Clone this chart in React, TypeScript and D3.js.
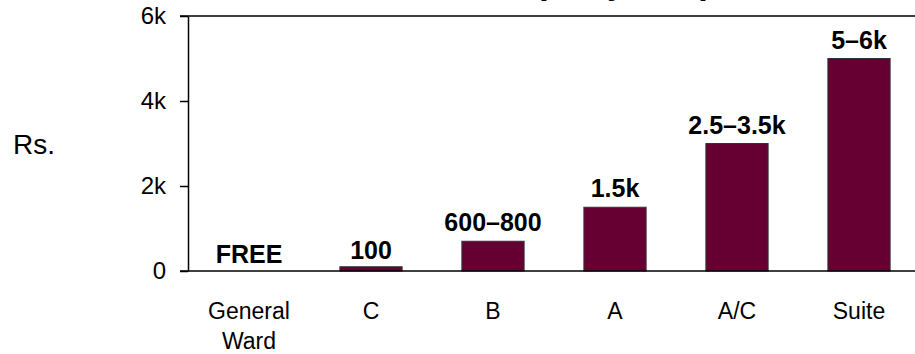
import { useEffect, useRef } from 'react';
import * as d3 from 'd3';

// Chart data
const categories = ['General Ward', 'C', 'B', 'A', 'A/C', 'Suite'];
const values = [0, 100, 700, 1500, 3000, 5000];
const barLabels = ['FREE', '100', '600–800', '1.5k', '2.5–3.5k', '5–6k'];
const yTicks = [0, 2000, 4000, 6000];
const yTickLabels = ['0', '2k', '4k', '6k'];

const width = 915;
const height = 354;
const font = '"Liberation Sans", Arial, sans-serif';

const App = () => {
  const svgRef = useRef<SVGSVGElement | null>(null);

  useEffect(() => {
    const svg = d3.select(svgRef.current);
    svg.selectAll('*').remove();

    const left = 188;
    const right = 920;
    const top = 16;
    const bottom = 271;

    const x = d3.scaleBand().domain(categories).range([left, right]).paddingInner(0.49).paddingOuter(0.245);
    const y = d3.scaleLinear().domain([0, 6000]).range([bottom, top]);

    // title (cut off at the top edge, only descenders show)
    svg.append('text')
      .attr('x', 712)
      .attr('y', -6)
      .attr('text-anchor', 'end')
      .attr('font-family', font)
      .attr('font-weight', 'bold')
      .attr('font-size', 35)
      .text('Room Rent (daily rate)');

    // top border line
    svg.append('line')
      .attr('x1', left - 8).attr('x2', width)
      .attr('y1', y(6000)).attr('y2', y(6000))
      .attr('stroke', '#000').attr('stroke-width', 1.5);

    // bars
    svg.selectAll('rect.bar')
      .data(values)
      .enter()
      .append('rect')
      .attr('class', 'bar')
      .attr('x', (d, i) => x(categories[i]) as number)
      .attr('y', d => y(d))
      .attr('width', x.bandwidth())
      .attr('height', d => bottom - y(d))
      .attr('fill', '#660033')
      .attr('stroke', d => (d > 0 ? '#333' : 'none'))
      .attr('stroke-width', 1);

    // value labels
    svg.selectAll('text.val')
      .data(barLabels)
      .enter()
      .append('text')
      .attr('class', 'val')
      .attr('x', (d, i) => (x(categories[i]) as number) + x.bandwidth() / 2)
      .attr('y', (d, i) => y(values[i]) - (values[i] < 500 ? 8 : 10))
      .attr('text-anchor', 'middle')
      .attr('font-family', font)
      .attr('font-weight', 'bold')
      .attr('font-size', 25)
      .text(d => d);

    // y axis
    const yAxis = svg.append('g')
      .attr('transform', `translate(${left},0)`)
      .call(
        d3.axisLeft(y)
          .tickValues(yTicks)
          .tickFormat((d, i) => yTickLabels[i])
          .tickSize(8)
          .tickSizeOuter(0)
          .tickPadding(14)
      );
    yAxis.select('.domain').attr('stroke', '#000').attr('stroke-width', 1.5);
    yAxis.selectAll('.tick line').attr('stroke', '#000').attr('stroke-width', 1.5);
    yAxis.selectAll('.tick text')
      .attr('font-family', font)
      .attr('font-size', 24)
      .attr('fill', '#000');

    // x axis line
    svg.append('line')
      .attr('x1', left - 8).attr('x2', width)
      .attr('y1', bottom).attr('y2', bottom)
      .attr('stroke', '#000').attr('stroke-width', 1.5);

    // category labels
    const catText = svg.selectAll('text.cat')
      .data(categories)
      .enter()
      .append('text')
      .attr('class', 'cat')
      .attr('x', d => (x(d) as number) + x.bandwidth() / 2)
      .attr('y', 319)
      .attr('text-anchor', 'middle')
      .attr('font-family', font)
      .attr('font-size', 23);
    catText.each(function (d) {
      const words = d.split(' ');
      const t = d3.select(this);
      words.forEach((w, i) => {
        t.append('tspan')
          .attr('x', t.attr('x'))
          .attr('dy', i === 0 ? 0 : 30)
          .text(w);
      });
    });

    // y axis title
    svg.append('text')
      .attr('x', 13)
      .attr('y', 154)
      .attr('font-family', font)
      .attr('font-size', 28)
      .text('Rs.');
  }, []);

  return (
    <svg
      ref={svgRef}
      width={width}
      height={height}
      style={{ position: 'absolute', left: 0, top: 0, background: '#fff' }}
    />
  );
};

export default App;
